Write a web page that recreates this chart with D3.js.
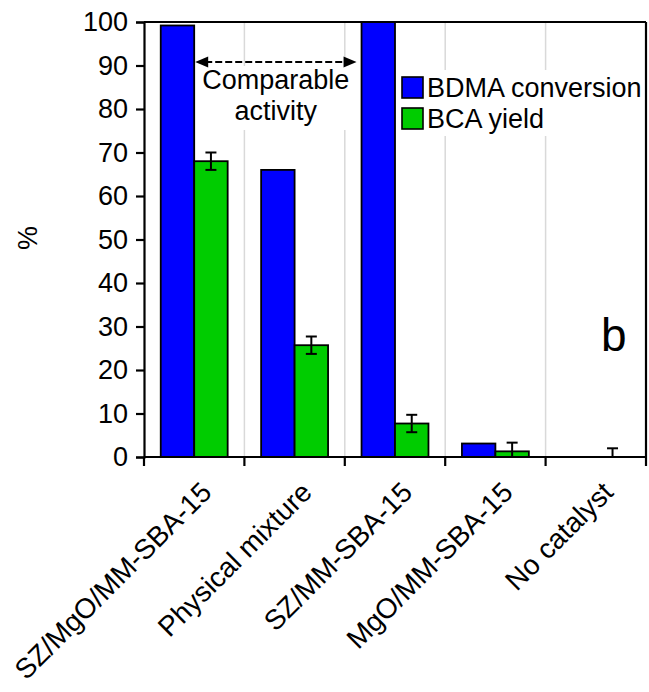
<!DOCTYPE html>
<html>
<head>
<meta charset="utf-8">
<script src="https://cdn.jsdelivr.net/npm/d3@7"></script>
<style>
  html, body { margin: 0; padding: 0; background: #fff; }
  svg { display: block; font-family: Arial, "Liberation Sans", sans-serif; }
</style>
</head>
<body>
<svg id="chart" width="649" height="692"></svg>
<script>
// Catalyst screening: BDMA conversion and BCA yield (%)
const categories = ["SZ/MgO/MM-SBA-15", "Physical mixture", "SZ/MM-SBA-15", "MgO/MM-SBA-15", "No catalyst"];
const seriesNames = ["BDMA conversion", "BCA yield"];
const conversion = [99.2, 66.0, 100, 3.1, 0];
const bcaYield = [68.0, 25.7, 7.7, 1.3, 0];
const yieldError = [2, 2, 2, 2, 2];
const yTicks = [0, 10, 20, 30, 40, 50, 60, 70, 80, 90, 100];
const seriesColors = ["#0000ff", "#00cc00"];

const svg = d3.select("#chart");
const plotLeft = 144, plotRight = 646, plotTop = 22, plotBottom = 457;

const x0 = d3.scaleBand().domain(categories).range([plotLeft, plotRight]).paddingInner(0).paddingOuter(0);
const x1 = d3.scaleBand().domain(seriesNames).range([0, x0.bandwidth()]).paddingInner(0).paddingOuter(0.5);
const y = d3.scaleLinear().domain([0, 100]).range([plotBottom, plotTop]);

// vertical gridlines at category boundaries
const boundaries = categories.slice(1).map(c => x0(c));
svg.append("g").selectAll("line").data(boundaries).join("line")
  .attr("x1", d => d).attr("x2", d => d)
  .attr("y1", plotTop).attr("y2", plotBottom)
  .attr("stroke", "#d9d9d9").attr("stroke-width", 1.5);

// clip for marks
svg.append("clipPath").attr("id", "plotClip")
  .append("rect").attr("x", plotLeft).attr("y", plotTop - 2)
  .attr("width", plotRight - plotLeft).attr("height", plotBottom - plotTop + 2);

const rows = categories.map((c, i) => ({
  cat: c,
  values: [
    { s: seriesNames[0], v: conversion[i] },
    { s: seriesNames[1], v: bcaYield[i], err: yieldError[i] }
  ]
}));

const marks = svg.append("g").attr("clip-path", "url(#plotClip)");
const groups = marks.selectAll("g.cat").data(rows).join("g")
  .attr("class", "cat")
  .attr("transform", d => `translate(${x0(d.cat)},0)`);

groups.selectAll("rect").data(d => d.values.filter(v => v.v > 0)).join("rect")
  .attr("x", d => x1(d.s))
  .attr("y", d => y(d.v))
  .attr("width", x1.bandwidth())
  .attr("height", d => y(0) - y(d.v))
  .attr("fill", d => seriesColors[seriesNames.indexOf(d.s)])
  .attr("stroke", "#000").attr("stroke-width", 1.8);

// error bars on BCA yield
const errG = groups.selectAll("g.err").data(d => d.values.filter(v => v.err != null)).join("g")
  .attr("class", "err")
  .attr("transform", d => `translate(${x1(d.s) + x1.bandwidth() / 2},0)`);
errG.append("line").attr("x1", 0).attr("x2", 0)
  .attr("y1", d => y(d.v + d.err)).attr("y2", d => y(d.v - d.err))
  .attr("stroke", "#000").attr("stroke-width", 2);
errG.append("line").attr("x1", -5.5).attr("x2", 5.5)
  .attr("y1", d => y(d.v + d.err)).attr("y2", d => y(d.v + d.err))
  .attr("stroke", "#000").attr("stroke-width", 2);
errG.append("line").attr("x1", -5.5).attr("x2", 5.5)
  .attr("y1", d => y(d.v - d.err)).attr("y2", d => y(d.v - d.err))
  .attr("stroke", "#000").attr("stroke-width", 2);

// frame: top and right edges
svg.append("line").attr("x1", plotLeft).attr("x2", plotRight).attr("y1", plotTop).attr("y2", plotTop)
  .attr("stroke", "#000").attr("stroke-width", 2.2);
svg.append("line").attr("x1", plotRight).attr("x2", plotRight).attr("y1", plotTop).attr("y2", plotBottom)
  .attr("stroke", "#000").attr("stroke-width", 2.2);

// y axis
const yAxis = d3.axisLeft(y).tickValues(yTicks).tickSize(8).tickPadding(8).tickFormat(d3.format("d"));
const gy = svg.append("g").attr("transform", `translate(${plotLeft},0)`).call(yAxis);
gy.select(".domain").attr("stroke", "#000").attr("stroke-width", 2.2);
gy.selectAll(".tick line").attr("stroke", "#000").attr("stroke-width", 2.2);
gy.selectAll(".tick text").attr("font-size", 27).attr("fill", "#000")
  .attr("font-family", "Arial, 'Liberation Sans', sans-serif");

// x axis: ticks at category boundaries, labels rotated
const xTickPositions = categories.map(c => x0(c)).concat([plotRight]);
const gx = svg.append("g");
gx.append("line").attr("x1", plotLeft).attr("x2", plotRight).attr("y1", plotBottom).attr("y2", plotBottom)
  .attr("stroke", "#000").attr("stroke-width", 2.2);
gx.selectAll("line.tk").data(xTickPositions).join("line").attr("class", "tk")
  .attr("x1", d => d).attr("x2", d => d).attr("y1", plotBottom).attr("y2", plotBottom + 9)
  .attr("stroke", "#000").attr("stroke-width", 2.2);
gx.selectAll("text").data(categories).join("text")
  .attr("transform", d => `translate(${x0(d) + x0.bandwidth() / 2 + 19},${plotBottom + 37}) rotate(-45)`)
  .attr("text-anchor", "end")
  .attr("font-size", 28)
  .attr("fill", "#000")
  .text(d => d);

// y axis title
svg.append("text")
  .attr("transform", "translate(37,238) rotate(-90)")
  .attr("text-anchor", "middle")
  .attr("font-size", 27)
  .text("%");

// annotation: comparable activity between the two catalysts
const arrowY = 62;
const ax1 = x0(categories[0]) + x1(seriesNames[0]) + x1.bandwidth() + 1;
const ax2 = x0(categories[2]) + x1(seriesNames[0]) - 5;
svg.append("rect").attr("x", ax1 + 4).attr("y", 66).attr("width", ax2 - ax1 - 8).attr("height", 64).attr("fill", "#fff");
svg.append("line").attr("x1", ax1 + 10).attr("x2", ax2 - 10).attr("y1", arrowY).attr("y2", arrowY)
  .attr("stroke", "#000").attr("stroke-width", 2).attr("stroke-dasharray", "7,3");
svg.append("path")
  .attr("d", `M${ax1},${arrowY} L${ax1 + 13},${arrowY - 5.5} L${ax1 + 13},${arrowY + 5.5} Z`)
  .attr("fill", "#000");
svg.append("path")
  .attr("d", `M${ax2},${arrowY} L${ax2 - 13},${arrowY - 5.5} L${ax2 - 13},${arrowY + 5.5} Z`)
  .attr("fill", "#000");
const midX = (ax1 + ax2) / 2;
svg.append("text").attr("x", midX).attr("y", 89).attr("text-anchor", "middle")
  .attr("font-size", 27).text("Comparable");
svg.append("text").attr("x", midX).attr("y", 120).attr("text-anchor", "middle")
  .attr("font-size", 27).text("activity");

// legend
const legend = svg.append("g");
legend.append("rect").attr("x", 398).attr("y", 70).attr("width", 244).attr("height", 66).attr("fill", "#fff");
seriesNames.forEach((name, i) => {
  const ly = 77 + i * 31;
  legend.append("rect").attr("x", 402).attr("y", ly).attr("width", 21).attr("height", 21)
    .attr("fill", seriesColors[i]).attr("stroke", "#000").attr("stroke-width", 1.6);
  legend.append("text").attr("x", 427).attr("y", ly + 20).attr("font-size", 27).text(name);
});

// panel letter
svg.append("text").attr("x", 601).attr("y", 351).attr("font-size", 46).text("b");
</script>
</body>
</html>
